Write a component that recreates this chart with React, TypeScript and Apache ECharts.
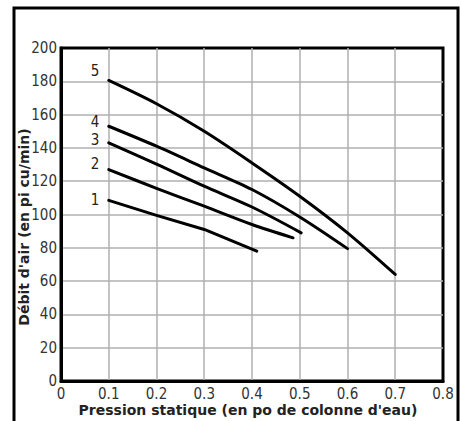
import React, { useEffect, useRef } from "react";
import * as echarts from "echarts";

// Curve data (static pressure in inches of water, airflow in cfm)
const curveNames = ["1", "2", "3", "4", "5"];
const pressure1 = [0.1, 0.2, 0.3, 0.41];
const flow1 = [108.5, 99.5, 91, 78];
const pressure2 = [0.1, 0.2, 0.3, 0.4, 0.486];
const flow2 = [127, 115.7, 105, 94, 86];
const pressure3 = [0.1, 0.2, 0.3, 0.4, 0.503];
const flow3 = [143, 130.3, 117, 104.5, 89];
const pressure4 = [0.1, 0.2, 0.3, 0.4, 0.5, 0.6];
const flow4 = [153, 141, 128, 115, 98.5, 79.5];
const pressure5 = [0.1, 0.2, 0.3, 0.4, 0.5, 0.6, 0.7];
const flow5 = [180.5, 166.5, 150, 131, 111, 89, 64];

const xTicks = [0, 0.1, 0.2, 0.3, 0.4, 0.5, 0.6, 0.7, 0.8];
const yTicks = [0, 20, 40, 60, 80, 100, 120, 140, 160, 180, 200];

const xTitle = "Pression statique (en po de colonne d'eau)";
const yTitle = "Débit d'air (en pi cu/min)";

const FONT = "'DejaVu Sans Condensed', 'DejaVu Sans', sans-serif";
const TITLE_FONT = "'DejaVu Sans', Verdana, sans-serif";

export default function App() {
  const ref = useRef<HTMLDivElement>(null);

  useEffect(() => {
    if (!ref.current) return;
    const chart = echarts.init(ref.current, undefined, { renderer: "svg" });

    const curves = [
      { x: pressure1, y: flow1, dy: 0, smooth: false },
      { x: pressure2, y: flow2, dy: -6, smooth: 0.3 },
      { x: pressure3, y: flow3, dy: -3, smooth: 0.3 },
      { x: pressure4, y: flow4, dy: -4, smooth: 0.3 },
      { x: pressure5, y: flow5, dy: -9, smooth: 0.3 },
    ];

    const series = curves.map((c, i) => ({
      type: "line",
      name: curveNames[i],
      symbol: "circle",
      symbolSize: 1,
      showSymbol: true,
      smooth: c.smooth,
      itemStyle: { color: "rgba(0,0,0,0)" },
      lineStyle: { color: "#000", width: 3, cap: "round", join: "round" },
      data: c.x.map((xv, j) =>
        j === 0
          ? {
              value: [xv, c.y[j]],
              label: {
                show: true,
                formatter: curveNames[i],
                position: "left",
                distance: 9,
                offset: [0, c.dy],
                color: "#222",
                fontSize: 15,
                fontFamily: FONT,
              },
            }
          : { value: [xv, c.y[j]] }
      ),
    }));

    chart.setOption({
      animation: false,
      backgroundColor: "#fff",
      grid: {
        left: 61,
        top: 48,
        right: 18,
        bottom: 40,
        show: true,
        borderColor: "#000",
        borderWidth: 3,
        containLabel: false,
      },
      xAxis: {
        type: "value",
        min: xTicks[0],
        max: xTicks[xTicks.length - 1],
        interval: 0.1,
        axisLine: { show: true, lineStyle: { color: "#000", width: 3 } },
        axisTick: { show: false },
        axisLabel: {
          color: "#333",
          fontSize: 15,
          fontFamily: FONT,
          margin: 5,
          formatter: (v: number) => String(Math.round(v * 10) / 10),
        },
        splitLine: {
          show: true,
          showMinLine: false,
          showMaxLine: false,
          lineStyle: { color: "#b0b0b0", width: 1.5 },
        },
      },
      yAxis: {
        type: "value",
        min: yTicks[0],
        max: yTicks[yTicks.length - 1],
        interval: 20,
        axisLine: { show: true, lineStyle: { color: "#000", width: 3 } },
        axisTick: { show: false },
        axisLabel: {
          color: "#333",
          fontSize: 15,
          fontFamily: FONT,
          margin: 4,
        },
        splitLine: {
          show: true,
          showMinLine: false,
          showMaxLine: false,
          lineStyle: { color: "#b0b0b0", width: 1.5 },
        },
      },
      graphic: [
        {
          type: "rect",
          shape: { x: 14, y: 8, width: 444, height: 440 },
          style: { fill: "none", stroke: "#000", lineWidth: 3 },
          silent: true,
          z: 100,
        },
        {
          type: "text",
          x: 248,
          y: 410,
          style: {
            text: xTitle,
            fontSize: 14,
            fontWeight: "bold",
            fontFamily: TITLE_FONT,
            fill: "#222",
            textAlign: "center",
            textVerticalAlign: "middle",
          },
        },
        {
          type: "text",
          x: 24,
          y: 227,
          rotation: Math.PI / 2,
          style: {
            text: yTitle,
            fontSize: 14,
            fontWeight: "bold",
            fontFamily: TITLE_FONT,
            fill: "#222",
            textAlign: "center",
            textVerticalAlign: "middle",
          },
        },
      ],
      series,
    });

    return () => chart.dispose();
  }, []);

  return (
    <div
      ref={ref}
      style={{ position: "fixed", left: 0, top: 0, width: 461, height: 421 }}
    />
  );
}
